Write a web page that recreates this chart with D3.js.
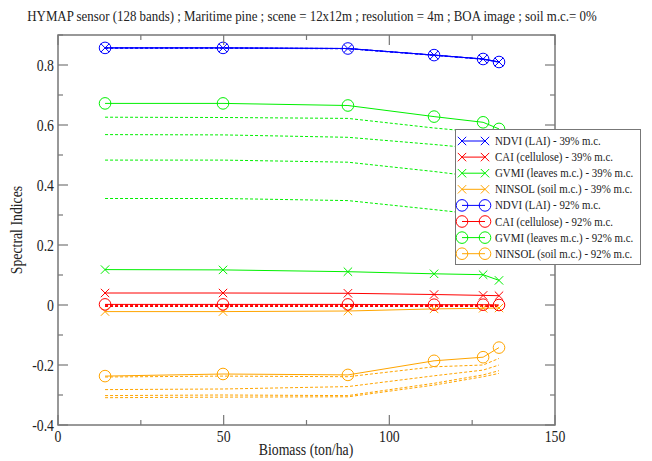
<!DOCTYPE html>
<html><head><meta charset="utf-8">
<script src="https://cdn.jsdelivr.net/npm/d3@7"></script>
<style>body{margin:0;background:#fff}svg{display:block}</style>
</head><body><svg id="c" width="652" height="461"></svg>
<script>
const biomass = [14.2, 49.8, 87.5, 113.5, 128.3, 133.1];
const xTicks = [0, 50, 100, 150];
const yTicks = [-0.4, -0.2, 0, 0.2, 0.4, 0.6, 0.8];
const yTickLabels = ["-0.4", "-0.2", "0", "0.2", "0.4", "0.6", "0.8"];

const ndvi39 = [0.857, 0.857, 0.855, 0.833, 0.82, 0.81];
const cai39 = [0.04, 0.04, 0.039, 0.035, 0.032, 0.031];
const gvmi39 = [0.118, 0.117, 0.111, 0.104, 0.101, 0.082];
const ninsol39 = [-0.022, -0.022, -0.02, -0.013, -0.011, -0.01];
const ndvi92 = [0.857, 0.857, 0.855, 0.833, 0.82, 0.81];
const cai92 = [0.002, 0.002, 0.002, 0.001, 0.001, 0.0];
const gvmi92 = [0.672, 0.672, 0.665, 0.628, 0.609, 0.587];
const ninsol92 = [-0.237, -0.23, -0.233, -0.186, -0.174, -0.142];

// intermediate moisture contents (dashed, no markers)
const ndviMid1 = [0.857, 0.857, 0.855, 0.833, 0.82, 0.81];
const ndviMid2 = [0.856, 0.856, 0.854, 0.832, 0.819, 0.809];
const caiMid1 = [0.001, 0.001, 0.001, 0.0, 0.0, -0.001];
const caiMid2 = [-0.001, -0.001, -0.001, -0.002, -0.002, -0.002];
const caiMid3 = [-0.003, -0.003, -0.003, -0.003, -0.004, -0.004];
const caiMid4 = [-0.005, -0.005, -0.005, -0.005, -0.005, -0.005];
const gvmiMid1 = [0.626, 0.625, 0.622, 0.59, 0.575, 0.56];
const gvmiMid2 = [0.568, 0.567, 0.559, 0.535, 0.52, 0.505];
const gvmiMid3 = [0.483, 0.483, 0.476, 0.445, 0.425, 0.41];
const gvmiMid4 = [0.355, 0.355, 0.348, 0.318, 0.30, 0.285];
const ninsolMid1 = [-0.24, -0.237, -0.239, -0.206, -0.2, -0.178];
const ninsolMid2 = [-0.282, -0.28, -0.272, -0.236, -0.217, -0.2];
const ninsolMid3 = [-0.302, -0.3, -0.302, -0.261, -0.233, -0.219];
const ninsolMid4 = [-0.309, -0.307, -0.306, -0.267, -0.239, -0.228];

const legendLabels = ["NDVI (LAI) - 39% m.c.", "CAI (cellulose) - 39% m.c.", "GVMI (leaves m.c.) - 39% m.c.", "NINSOL (soil m.c.) - 39% m.c.",
  "NDVI (LAI) - 92% m.c.", "CAI (cellulose) - 92% m.c.", "GVMI (leaves m.c.) - 92% m.c.", "NINSOL (soil m.c.) - 92% m.c."];

const C = {blue:"#0000ff", red:"#ff0000", green:"#00f000", orange:"#ffa500"};
const FONT = '"Liberation Serif"';

const svg = d3.select("#c");
const L = 58, R = 555, T = 35, B = 425;
const x = d3.scaleLinear().domain([0, 150]).range([L, R]);
const y = d3.scaleLinear().domain([-0.4, 0.9]).range([B, T]);

const line = d3.line().x((d,i)=>x(biomass[i])).y(d=>y(d));

const dashed = [
  [ndviMid1, C.blue],[ndviMid2, C.blue],
  [caiMid1, C.red],[caiMid2, C.red],[caiMid3, C.red],[caiMid4, C.red],
  [gvmiMid1, C.green],[gvmiMid2, C.green],[gvmiMid3, C.green],[gvmiMid4, C.green],
  [ninsolMid1, C.orange],[ninsolMid2, C.orange],[ninsolMid3, C.orange],[ninsolMid4, C.orange]
];
const g = svg.append("g");
dashed.forEach(([d,c])=>{
  g.append("path").attr("d", line(d)).attr("fill","none").attr("stroke",c)
   .attr("stroke-width",1).attr("stroke-dasharray","3,2");
});

const solid = [
  [ndvi39, C.blue, "x"],[cai39, C.red, "x"],[gvmi39, C.green, "x"],[ninsol39, C.orange, "x"],
  [ndvi92, C.blue, "o"],[cai92, C.red, "o"],[gvmi92, C.green, "o"],[ninsol92, C.orange, "o"]
];
function marker(sel, cx, cy, type, c){
  if(type==="x"){
    const s=4.2;
    sel.append("path").attr("d",`M${cx-s},${cy-s}L${cx+s},${cy+s}M${cx-s},${cy+s}L${cx+s},${cy-s}`)
      .attr("stroke",c).attr("stroke-width",1).attr("fill","none");
  } else {
    sel.append("circle").attr("cx",cx).attr("cy",cy).attr("r",5.8)
      .attr("stroke",c).attr("stroke-width",1).attr("fill","none");
  }
}
solid.forEach(([d,c,t])=>{
  g.append("path").attr("d", line(d)).attr("fill","none").attr("stroke",c).attr("stroke-width",1);
  d.forEach((v,i)=>marker(g, x(biomass[i]), y(v), t, c));
});

function txt(sel, tx, ty, size, anchor, s, rot){
  return sel.append("text")
    .attr("transform", `translate(${tx},${ty})` + (rot ? ` rotate(${rot})` : "") + " scale(1,1.15)")
    .attr("text-anchor", anchor).attr("font-size", size)
    .style("font-family", FONT).attr("fill", "#222").text(s);
}

// frame & ticks
const ax = svg.append("g");
ax.append("rect").attr("x",L).attr("y",T).attr("width",R-L).attr("height",B-T)
  .attr("fill","none").attr("stroke","#777").attr("stroke-width",1.5);
const xMinor = d3.range(0, 151, 25);
xMinor.forEach(v=>{
  const len = v%50===0 ? 10 : 5;
  ax.append("line").attr("x1",x(v)).attr("x2",x(v)).attr("y1",B).attr("y2",B-len).attr("stroke","#777").attr("stroke-width",1.2);
  ax.append("line").attr("x1",x(v)).attr("x2",x(v)).attr("y1",T).attr("y2",T+len).attr("stroke","#777").attr("stroke-width",1.2);
});
d3.range(-4, 10).forEach(k=>{
  const v = k/10, len = (k%2===0) ? 10 : 5;
  ax.append("line").attr("x1",L).attr("x2",L+len).attr("y1",y(v)).attr("y2",y(v)).attr("stroke","#777").attr("stroke-width",1.2);
  ax.append("line").attr("x1",R).attr("x2",R-len).attr("y1",y(v)).attr("y2",y(v)).attr("stroke","#777").attr("stroke-width",1.2);
});
xTicks.forEach(v=>{ txt(ax, x(v), B+17, 13.8, "middle", v); });
yTicks.forEach((v,i)=>{ txt(ax, L-4, y(v)+6, 13.8, "end", yTickLabels[i]); });
txt(svg, 306, 455, 13.8, "middle", "Biomass (ton/ha)");
txt(svg, 22, 230, 13.8, "middle", "Spectral Indices", -90);
txt(svg, 312, 21, 12.9, "middle", "HYMAP sensor (128 bands) ; Maritime pine ; scene = 12x12m ; resolution = 4m ; BOA image ; soil m.c.= 0%");

// legend
const lg = svg.append("g");
lg.append("rect").attr("x",455.5).attr("y",129.5).attr("width",185).attr("height",135)
  .attr("fill","#fff").attr("stroke","#777").attr("stroke-width",1);
solid.forEach(([d,c,t],i)=>{
  const yy = 141 + i*16.1;
  lg.append("line").attr("x1",462).attr("x2",485).attr("y1",yy).attr("y2",yy).attr("stroke",c).attr("stroke-width",1);
  marker(lg, 462, yy, t, c); marker(lg, 485, yy, t, c);
  txt(lg, 495, yy+4, 10.9, "start", legendLabels[i]);
});
</script></body></html>
